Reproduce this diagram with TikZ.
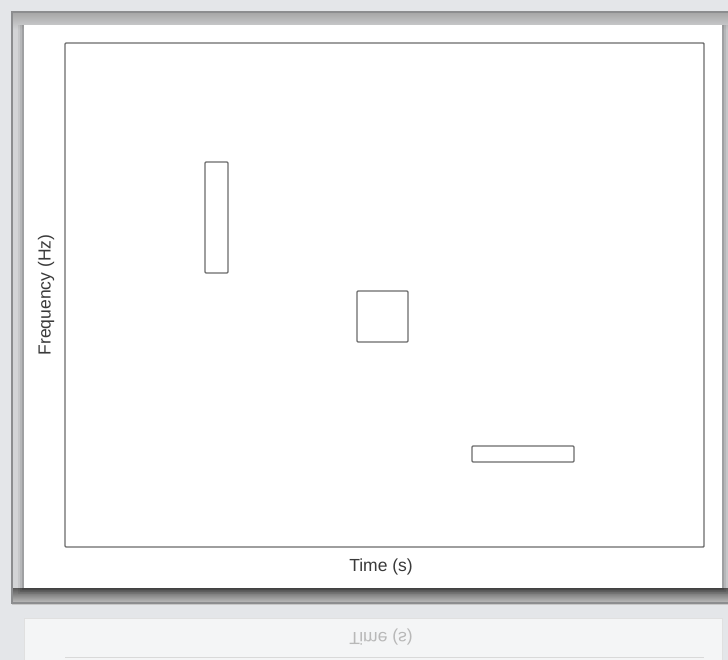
\documentclass[tikz,border=0pt]{standalone}
\usepackage{fontspec}
\setmainfont{Liberation Sans}
\definecolor{bgc}{HTML}{E4E6E9}
\definecolor{framec}{HTML}{8C8D8F}
\definecolor{gapc}{HTML}{D3D4D6}
\definecolor{plotc}{HTML}{6A6A6A}
\definecolor{txtc}{HTML}{3A3A3A}
\begin{document}
\begin{tikzpicture}[x=1pt,y=-1pt,
  plotline/.style={draw=plotc, line width=1.4pt, rounded corners=1pt},
  lbl/.style={text=txtc, font=\fontsize{17.5}{20}\selectfont, inner sep=0pt}]
\useasboundingbox (0,0) rectangle (728,660);
% background
\fill[bgc] (0,0) rectangle (728,660);
% outer frame area
\fill[gapc] (12,12) rectangle (728,603);
\shade[top color=black!35, bottom color=gapc] (12,12) rectangle (728,30);
\shade[top color=black!65, bottom color=black!22] (12,588) rectangle (728,604);
\draw[framec, line width=1.6pt] (728,12) -- (12,12) -- (12,603) -- (728,603);
% card shadow
\foreach \o/\a in {6/0.06,4/0.08,2/0.12}{
  \fill[black, opacity=\a] (24-\o,25) rectangle (722+\o,588+\o);
}
% white card
\fill[white] (24,25) rectangle (722,588);
% reflection panel
\fill[white!60!bgc] (24,618) rectangle (722,662);
\draw[black!12, line width=0.8pt] (24,662) -- (24,618) -- (722,618) -- (722,662);
\draw[black!15, line width=1pt] (65,657) -- (704,657);
\node[lbl, text=black!28, yscale=-1] (refl) at (381,637) {Time (s)};
% plot frame
\draw[plotline] (65,43) rectangle (704,547);
% boxes
\draw[plotline] (205,162) rectangle (228,273);
\draw[plotline] (357,291) rectangle (408,342);
\draw[plotline] (472,446) rectangle (574,462);
% labels
\node[lbl] (xlab) at (381,567) {Time (s)};
\node[lbl, rotate=90] (ylab) at (46,295) {Frequency (Hz)};
\end{tikzpicture}
\end{document}
